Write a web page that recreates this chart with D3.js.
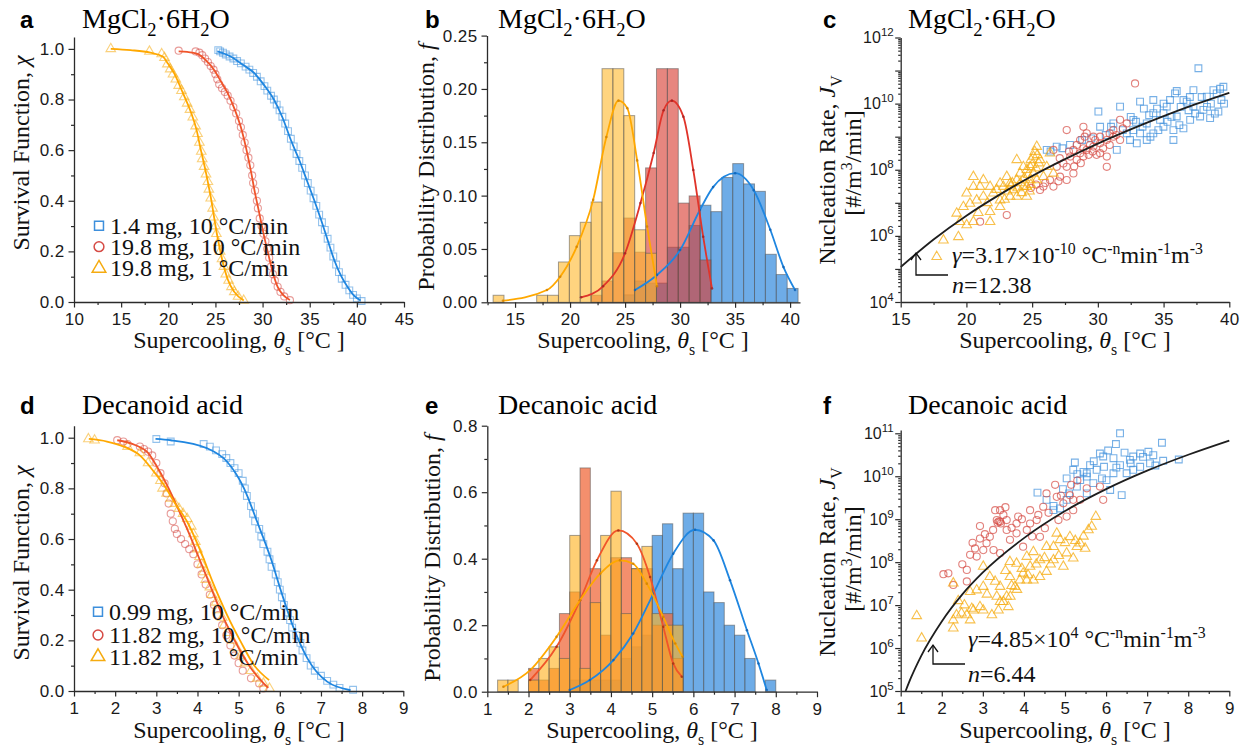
<!DOCTYPE html>
<html><head><meta charset="utf-8">
<script src="https://cdn.jsdelivr.net/npm/d3@7"></script>
<style>body{margin:0;background:#fff}svg{display:block}</style>
</head><body><svg id="chart" width="1247" height="753"></svg>
<script>
// ================= DATA =================
// Panel a: survival function, MgCl2·6H2O  [supercooling °C, chi]
const aBluePts = [[25.3,.995],[25.5,.99],[25.8,.985],[26.1,.978],[26.5,.97],[26.9,.962],[27.3,.952],[27.7,.943],[28.2,.93],[28.6,.918],[29.0,.905],[29.4,.89],[29.8,.872],[30.2,.853],[30.5,.835],[30.9,.815],[31.2,.8],[31.5,.78],[31.8,.757],[32.1,.732],[32.4,.705],[32.7,.675],[33.0,.645],[33.3,.615],[33.6,.585],[33.9,.557],[34.2,.53],[34.5,.5],[34.8,.47],[35.1,.44],[35.4,.41],[35.7,.38],[36.0,.345],[36.3,.315],[36.6,.285],[36.9,.25],[37.2,.215],[37.5,.18],[37.8,.148],[38.1,.118],[38.4,.092],[38.8,.068],[39.2,.046],[39.6,.028],[40.0,.014],[40.5,.004]];
const aBlueFit = [[25.2,.99],[26.6,.97],[28,.935],[29.1,.905],[30.2,.855],[31.2,.8],[32.1,.73],[33,.64],[33.9,.56],[34.7,.48],[35.5,.4],[36.2,.325],[36.9,.245],[37.6,.166],[38.3,.105],[39,.06],[39.7,.025],[40.4,.006]];
const aRedPts = [[21.1,.993],[22.9,.99],[23.3,.985],[23.6,.975],[23.9,.962],[24.2,.948],[24.5,.932],[24.8,.918],[25.0,.9],[25.2,.88],[25.4,.86],[25.7,.845],[26.0,.83],[26.3,.815],[26.6,.795],[26.9,.77],[27.2,.745],[27.5,.715],[27.7,.69],[27.9,.66],[28.1,.63],[28.3,.6],[28.5,.57],[28.7,.54],[28.9,.5],[29.0,.47],[29.2,.44],[29.4,.4],[29.5,.37],[29.7,.33],[29.9,.3],[30.1,.27],[30.3,.24],[30.5,.21],[30.7,.175],[30.9,.14],[31.1,.11],[31.3,.085],[31.6,.06],[31.9,.04],[32.3,.022],[32.9,.007]];
const aRedFit = [[21.1,.99],[22,.988],[23.1,.98],[24,.955],[24.9,.915],[25.6,.87],[26.3,.825],[27,.765],[27.7,.69],[28.3,.6],[28.8,.51],[29.2,.43],[29.6,.36],[30.1,.27],[30.6,.19],[31.1,.115],[31.6,.06],[32.2,.027],[32.9,.008]];
const aYelPts = [[13.9,1.0],[18.0,.99],[19.3,.98],[19.6,.965],[19.9,.94],[20.2,.92],[20.5,.9],[20.8,.88],[21.1,.855],[21.4,.835],[21.7,.81],[22.0,.785],[22.3,.76],[22.6,.73],[22.9,.695],[23.1,.665],[23.3,.63],[23.5,.595],[23.6,.565],[23.8,.535],[24.0,.505],[24.2,.475],[24.3,.445],[24.5,.41],[24.7,.37],[24.8,.335],[25.0,.3],[25.1,.27],[25.3,.235],[25.5,.2],[25.7,.17],[25.9,.14],[26.1,.11],[26.4,.085],[26.7,.06],[27.0,.04],[27.4,.022],[28.0,.006]];
const aYelFit = [[13.9,1.0],[16,.995],[18.1,.985],[19.4,.97],[20,.94],[20.6,.905],[21.5,.83],[22.4,.75],[23,.68],[23.4,.61],[24,.51],[24.5,.415],[25.2,.26],[25.7,.17],[26.3,.09],[27,.04],[28,.006]];
const aLegend = ["1.4 mg, 10 °C/min","19.8 mg, 10 °C/min","19.8 mg, 1 °C/min"];

// Panel b: histogram [bin centre °C, probability]
const bBinWidth = 0.99;
const bYelBars = [[13.5,.0066],[17.46,.0066],[18.45,.0066],[19.44,.0378],[20.43,.0625],[21.42,.075],[22.41,.094],[23.4,.219],[24.39,.219],[25.38,.175],[26.37,.068],[27.36,.046]];
const bRedBars = [[22.41,.0066],[23.4,.02],[24.39,.0465],[25.38,.079],[26.37,.047],[27.36,.126],[28.35,.219],[29.34,.219],[30.33,.093],[31.32,.0997],[32.31,.0397]];
const bBlueBars = [[25.38,.007],[26.37,.02],[27.36,.018],[28.35,.018],[29.34,.0516],[30.33,.0516],[31.32,.072],[32.31,.091],[33.3,.085],[34.29,.117],[35.28,.13],[36.27,.111],[37.26,.104],[38.25,.045],[39.24,.026],[40.23,.013]];
const bYelFit = [[13.9,.0015],[17.9,.0115],[19.1,.024],[20.6,.052],[22.1,.096],[23.3,.155],[24.4,.189],[25.2,.182],[26.1,.133],[27.0,.071],[27.9,.015]];
const bRedFit = [[21.0,.0047],[23.0,.015],[25.0,.046],[26.4,.093],[27.6,.14],[28.5,.18],[29.25,.189],[30.3,.174],[31.2,.124],[32.1,.0615],[32.9,.013]];
const bBlueFit = [[25.9,.0115],[27.9,.0256],[30.0,.049],[31.8,.0865],[33.0,.108],[35.0,.121],[36.7,.105],[38.2,.068],[39.4,.033],[40.45,.0115]];

// Panel c: nucleation rate [supercooling °C, log10 J]
const cBluePts = [[30.04,9.76],[31.69,9.91],[32.7,9.51],[33.21,10.06],[34.22,10.11],[34.22,9.71],[35.24,9.91],[35.87,10.31],[36.76,10.06],[37.27,10.41],[37.65,11.07],[38.29,10.21],[38.79,10.41],[39.55,10.51],[39.17,9.76],[38.54,9.56],[37.78,9.61],[37.02,9.51],[36.51,9.25],[35.75,9.2],[34.99,9.3],[34.22,9.1],[33.72,8.9],[32.96,8.8],[32.45,8.9],[31.44,8.6],[31.18,9.4],[32.7,9.2],[33.72,9.4],[34.99,9.71],[36.0,9.61],[37.27,9.91],[38.03,9.81],[36.51,10.11],[35.49,10.11],[34.73,9.51],[33.21,9.1],[32.2,9.1],[26.11,8.6],[26.87,8.7],[27.88,8.75],[30.17,9.3],[39.4,10.11],[35.75,8.9],[39.04,10.31],[36.9,9.8],[38.6,10.0],[33.9,9.65],[35.3,9.45],[37.9,10.2],[26.4,8.55],[27.3,8.65],[28.8,8.9],[29.5,8.95],[30.6,9.05],[31.0,9.3],[31.9,9.2],[32.5,9.6],[33.4,9.3],[33.5,9.85],[34.0,9.0],[34.6,9.2],[35.0,10.0],[35.6,9.6],[36.2,9.35],[36.3,9.9],[37.0,10.2],[37.4,9.7],[38.3,9.9],[38.9,9.7],[39.3,10.45],[39.6,10.0],[36.0,10.38],[34.5,9.85],[32.9,9.45]];
const cRedPts = [[21.04,6.43],[23.07,6.63],[25.86,7.49],[26.62,7.49],[27.12,7.79],[27.63,7.69],[27.63,8.09],[28.14,7.89],[27.38,8.19],[28.39,8.3],[28.9,8.4],[29.15,8.6],[28.65,8.9],[29.15,9.1],[29.66,8.7],[30.17,8.5],[30.68,8.4],[30.17,8.8],[30.68,8.9],[31.18,9.0],[31.69,8.9],[31.18,9.2],[31.69,9.51],[32.2,9.4],[30.68,8.09],[27.63,9.2],[28.14,8.6],[26.36,7.69],[25.6,7.39],[26.87,8.09],[28.9,9.3],[29.66,9.0],[32.83,10.61],[28.65,8.5],[26.62,8.6],[30.17,9.0],[29.4,8.75],[28.9,8.65],[30.9,9.1],[29.9,8.45],[27.1,8.35],[27.9,8.4],[28.4,8.75],[28.7,8.2],[29.0,9.0],[29.3,8.45],[29.6,8.55],[29.8,8.9],[30.4,8.65],[30.9,8.75],[31.4,9.05],[31.9,9.25],[28.2,8.1],[27.8,8.55],[26.0,7.6],[27.0,7.65],[24.9,7.45],[25.3,7.55]];
const cYelPts = [[17.74,5.37],[18.25,5.87],[19.39,5.97],[19.51,6.43],[20.02,6.33],[20.53,6.43],[21.8,6.43],[19.77,6.88],[20.27,6.98],[20.78,7.08],[21.29,7.19],[22.05,7.29],[22.56,7.08],[20.02,7.29],[20.53,7.49],[21.29,7.69],[21.8,7.49],[22.56,7.59],[23.32,7.19],[23.83,7.19],[22.81,7.49],[23.32,7.59],[23.83,7.69],[24.33,7.49],[24.59,7.19],[23.83,8.3],[24.33,8.09],[24.84,8.09],[25.35,8.7],[25.1,8.4],[25.6,8.3],[26.11,8.09],[25.86,7.79],[26.62,7.89],[26.36,8.5],[25.35,7.69],[24.84,7.69],[20.53,7.79],[21.04,7.49],[23.07,7.79],[24.08,7.89],[25.1,7.89],[23.57,7.39],[24.59,7.49],[22.56,6.88],[21.8,6.73],[19.26,6.68],[24.2,7.3],[24.8,7.35],[23.5,7.6],[25.0,8.15],[24.6,8.0],[25.2,8.55],[23.1,7.35],[23.4,7.5],[23.9,7.45],[24.1,7.6],[24.4,7.75],[24.7,7.85],[24.9,7.55],[25.3,8.05],[25.5,8.2],[25.4,8.45],[24.9,8.3],[22.3,7.4],[22.9,7.1],[21.6,7.0],[20.9,6.7]];
const cFit = [[15,5.06],[17.5,5.89],[20,6.61],[22.5,7.24],[25,7.81],[27.5,8.32],[30,8.79],[32.5,9.22],[35,9.62],[37.5,9.99],[40,10.33]];

// Panel d: survival function, decanoic acid
const dBluePts = [[3.0,.995],[3.35,.985],[4.15,.975],[4.3,.965],[4.45,.95],[4.6,.935],[4.7,.92],[4.8,.9],[4.9,.88],[5.0,.86],[5.1,.83],[5.15,.8],[5.2,.77],[5.3,.73],[5.35,.7],[5.4,.67],[5.5,.64],[5.55,.61],[5.6,.58],[5.7,.55],[5.75,.52],[5.8,.49],[5.9,.46],[5.95,.43],[6.0,.4],[6.05,.37],[6.1,.34],[6.2,.31],[6.25,.28],[6.3,.25],[6.4,.22],[6.5,.19],[6.55,.16],[6.65,.13],[6.75,.1],[6.85,.08],[7.0,.06],[7.15,.04],[7.3,.025],[7.45,.012],[7.78,.005]];
const dBlueFit = [[2.98,.995],[3.35,.99],[4.24,.958],[4.72,.905],[5.13,.8],[5.45,.668],[5.78,.524],[6.06,.379],[6.34,.247],[6.67,.129],[7.15,.037],[7.72,.003]];
const dRedPts = [[2.05,.99],[2.2,.985],[2.3,.975],[2.6,.965],[2.7,.955],[2.8,.945],[2.9,.93],[3.0,.9],[3.1,.86],[3.2,.82],[3.25,.78],[3.3,.74],[3.35,.7],[3.4,.67],[3.45,.64],[3.5,.62],[3.6,.6],[3.7,.58],[3.8,.56],[3.9,.54],[4.0,.5],[4.1,.46],[4.2,.42],[4.3,.38],[4.4,.34],[4.5,.3],[4.6,.26],[4.7,.22],[4.8,.18],[4.9,.14],[5.0,.11],[5.1,.08],[5.3,.05],[5.5,.03],[5.6,.01]];
const dRedFit = [[2.05,.99],[2.5,.97],[2.8,.94],[3.0,.89],[3.3,.8],[3.5,.73],[3.8,.62],[4.0,.54],[4.3,.42],[4.6,.3],[5.0,.17],[5.3,.09],[5.55,.04],[5.72,.012]];
const dYelPts = [[1.35,.995],[1.5,.99],[2.3,.965],[2.6,.94],[2.8,.9],[3.0,.86],[3.1,.83],[3.15,.8],[3.25,.78],[3.35,.76],[3.45,.74],[3.55,.72],[3.65,.7],[3.75,.68],[3.85,.65],[3.9,.62],[3.95,.59],[4.0,.56],[4.05,.53],[4.1,.5],[4.15,.47],[4.2,.44],[4.3,.41],[4.35,.38],[4.45,.35],[4.5,.32],[4.6,.29],[4.65,.26],[4.75,.23],[4.85,.2],[4.95,.17],[5.05,.14],[5.15,.11],[5.3,.08],[5.45,.05],[5.6,.03],[5.75,.01]];
const dYelFit = [[1.36,.995],[1.8,.985],[2.21,.965],[2.6,.93],[2.94,.866],[3.2,.81],[3.43,.747],[3.75,.668],[4.08,.55],[4.4,.418],[4.72,.3],[5.05,.195],[5.37,.103],[5.74,.043]];
const dLegend = ["0.99 mg, 10 °C/min","11.82 mg, 10 °C/min","11.82 mg, 1 °C/min"];

// Panel e: histogram, decanoic acid
const eBinWidth = 0.25;
const eYelBars = [[1.375,.035],[1.625,.035],[2.125,.035],[2.375,.1],[2.625,.135],[2.875,.1],[3.125,.47],[3.375,.07],[3.625,.268],[3.875,.47],[4.125,.603],[4.375,.235],[4.625,.37],[4.875,.437],[5.125,.235],[5.375,.2],[5.625,.2]];
const eRedBars = [[2.125,.07],[2.375,.035],[2.625,.07],[2.875,.235],[3.125,.3],[3.375,.673],[3.625,.37],[3.875,.17],[4.125,.403],[4.375,.403],[4.625,.37],[4.875,.37],[5.125,.2],[5.375,.235],[5.625,.1]];
const eBlueBars = [[3.125,.035],[3.375,.035],[3.625,.035],[3.875,.035],[4.125,.035],[4.375,.1],[4.625,.135],[4.875,.17],[5.125,.47],[5.375,.505],[5.625,.37],[5.875,.537],[6.125,.537],[6.375,.3],[6.625,.268],[6.875,.2],[7.125,.17],[7.375,.1],[7.875,.035]];
const eRedFit = [[2.04,.035],[2.68,.135],[3.25,.275],[3.66,.395],[4.18,.485],[4.63,.445],[4.95,.345],[5.27,.195],[5.51,.085],[5.72,.045]];
const eYelFit = [[1.39,.015],[2.04,.065],[2.68,.165],[3.25,.275],[3.74,.355],[4.22,.395],[4.54,.385],[4.87,.325],[5.27,.225],[5.56,.145],[5.74,.105]];
const eBlueFit = [[3.0,.005],[3.49,.035],[4.06,.095],[4.54,.175],[5.03,.295],[5.51,.415],[6.04,.487],[6.49,.455],[6.89,.335],[7.3,.185],[7.58,.085],[7.78,.005]];

// Panel f: nucleation rate, decanoic acid [°C, log10 J]
const fBluePts = [[4.33,9.62],[4.72,9.31],[5.04,9.95],[5.24,10.32],[5.37,9.91],[5.53,10.07],[5.61,10.26],[5.85,10.53],[5.95,10.22],[6.01,9.91],[6.18,10.42],[6.24,10.75],[6.34,11.0],[6.34,10.26],[6.5,10.07],[6.66,10.46],[6.83,10.22],[7.03,10.57],[7.15,10.49],[7.36,10.78],[7.39,10.36],[7.77,10.39],[5.53,9.6],[5.69,9.84],[5.29,9.76],[5.04,9.45],[5.2,10.15],[5.77,10.15],[6.1,9.68],[6.38,9.56],[6.66,10.15],[7.07,10.3],[6.58,10.38],[4.72,9.21],[4.55,9.45],[4.88,9.25],[5.53,9.99],[5.93,10.46],[6.18,10.07],[6.83,10.53],[5.1,9.6],[5.45,10.1],[5.7,10.35],[5.9,9.95],[6.05,10.6],[6.25,10.2],[6.45,10.55],[6.6,10.3],[6.9,10.45],[7.2,10.25],[5.3,10.05],[4.95,9.7]];
const fRedPts = [[2.04,7.72],[2.16,7.74],[2.28,7.47],[2.61,7.82],[2.69,8.17],[2.81,8.32],[2.93,8.55],[2.93,8.84],[3.09,8.44],[3.17,8.59],[3.34,8.98],[3.42,9.21],[3.3,9.21],[3.55,9.28],[3.42,8.94],[3.58,8.75],[3.66,8.52],[3.58,8.98],[3.82,8.67],[3.86,9.06],[3.98,8.36],[4.07,8.75],[4.15,9.21],[4.31,8.98],[4.39,8.59],[4.47,9.29],[4.55,9.6],[4.76,9.8],[4.8,9.52],[4.96,9.37],[5.04,9.06],[5.12,9.56],[5.2,9.21],[5.37,9.45],[5.53,9.72],[5.85,9.76],[3.01,8.28],[3.26,8.28],[3.42,8.21],[2.85,8.13],[3.82,8.9],[4.15,8.9],[4.51,8.79],[4.84,8.98],[5.2,9.45],[5.93,9.45],[3.36,8.92],[3.39,8.95],[3.44,8.9],[2.61,7.55],[2.5,7.95],[2.75,8.45],[3.05,8.65],[3.25,8.75],[3.5,9.1],[3.7,8.8],[3.95,9.0],[4.2,8.6],[4.35,9.1],[4.6,9.15],[4.9,9.55],[5.15,9.8],[5.3,9.9]];
const fYelPts = [[1.39,6.75],[1.51,6.23],[2.28,7.51],[3.01,7.9],[3.17,7.66],[3.66,8.01],[3.82,7.97],[3.98,7.74],[4.07,8.13],[4.23,8.24],[4.15,7.9],[4.39,8.05],[4.55,7.78],[4.72,8.05],[4.72,8.36],[4.88,8.52],[5.04,8.21],[5.12,8.59],[5.2,8.09],[5.37,8.44],[5.49,8.32],[5.57,8.75],[5.65,8.83],[5.75,9.06],[5.29,8.36],[4.8,8.67],[4.55,8.36],[4.96,7.9],[4.39,7.66],[4.23,7.58],[3.9,7.58],[3.66,7.66],[3.42,7.43],[3.34,7.2],[3.01,7.43],[2.85,7.35],[2.69,7.31],[2.93,6.96],[2.73,6.92],[2.48,6.81],[3.42,7.08],[3.62,6.96],[3.22,6.77],[4.07,7.58],[3.78,7.43],[2.28,6.46],[2.28,6.65],[2.36,6.77],[2.61,6.77],[2.77,6.88],[3.01,6.88],[3.38,6.88],[3.5,7.08],[3.67,7.2],[3.83,7.36],[3.58,7.2],[2.69,6.65],[3.1,7.25],[3.3,7.55],[3.55,7.8],[3.7,7.45],[3.95,7.85],[4.1,7.7],[4.3,7.95],[4.5,8.1],[4.65,7.95],[4.85,8.15],[5.0,8.45],[5.25,8.5],[5.45,8.6],[2.4,7.1],[2.55,7.0]];
const fFit = [[1.12,5.0],[1.25,5.31],[1.5,5.82],[2,6.62],[2.5,7.25],[3,7.76],[4,8.56],[5,9.19],[6,9.7],[7,10.13],[8,10.5],[9,10.83]];

// ================= STYLE =================
const SERIF = "'Liberation Serif','Times New Roman',serif";
const SANS = "'Liberation Sans',Arial,sans-serif";
const AX = "#2b2b2b";
const C = {
  blueM:"#3d8fdc", redM:"#d64b45", yelM:"#f5ab10",
  blueL:"#1f86e0", redL:"#e0342a", yelL:"#ffa800",
  redL2:"#f0542a"
};

const svg = d3.select("#chart");

// ================= HELPERS =================
function rich(sel, parts, size){
  let shift = 0;
  parts.forEach(p=>{
    const ts = sel.append("tspan").text(p.t);
    const target = p.sub ? size*0.28 : p.sup ? -size*0.38 : 0;
    ts.attr("dy", target - shift); shift = target;
    if(p.sub||p.sup) ts.attr("font-size", size*0.66);
    if(p.it) ts.attr("font-style","italic");
  });
}
function styleAxis(g){
  g.select(".domain").attr("stroke",AX).attr("stroke-width",1.3);
  g.selectAll(".tick line").attr("stroke",AX).attr("stroke-width",1.2);
  g.selectAll(".tick text").attr("font-family",SANS).attr("font-size",17).attr("letter-spacing",0.4).attr("fill","#1a1a1a");
}
function linX(g,x,y0,maj,minor,fmt){
  g.append("g").attr("transform",`translate(0,${y0})`)
    .call(d3.axisBottom(x).tickValues(minor).tickSize(3).tickSizeOuter(0).tickFormat(""))
    .call(s=>s.select(".domain").remove()).call(styleAxis);
  g.append("g").attr("transform",`translate(0,${y0})`)
    .call(d3.axisBottom(x).tickValues(maj).tickSize(5.5).tickSizeOuter(0).tickPadding(5.5).tickFormat(fmt))
    .call(styleAxis);
}
function linY(g,y,x0,maj,minor,fmt){
  g.append("g").attr("transform",`translate(${x0},0)`)
    .call(d3.axisLeft(y).tickValues(minor).tickSize(3).tickSizeOuter(0).tickFormat(""))
    .call(s=>s.select(".domain").remove()).call(styleAxis);
  g.append("g").attr("transform",`translate(${x0},0)`)
    .call(d3.axisLeft(y).tickValues(maj).tickSize(5.5).tickSizeOuter(0).tickPadding(4).tickFormat(fmt))
    .call(styleAxis);
}
function logY(g,y,x0,decades,labelDecades){
  const minor=[];
  decades.forEach(e=>{ for(let m=2;m<10;m++){ const v=m*Math.pow(10,e); if(v<=y.domain()[1]) minor.push(v);} });
  g.append("g").attr("transform",`translate(${x0},0)`)
    .call(d3.axisLeft(y).tickValues(minor).tickSize(2.5).tickSizeOuter(0).tickFormat(""))
    .call(s=>s.select(".domain").remove()).call(styleAxis);
  g.append("g").attr("transform",`translate(${x0},0)`)
    .call(d3.axisLeft(y).tickValues(decades.map(e=>Math.pow(10,e))).tickSize(5.5).tickSizeOuter(0).tickFormat(""))
    .call(styleAxis);
  labelDecades.forEach(e=>{
    const t=g.append("text").attr("x",x0-7).attr("y",y(Math.pow(10,e))+5.5)
      .attr("text-anchor","end").attr("font-family",SANS).attr("font-size",16).attr("fill","#1a1a1a");
    t.append("tspan").text("10");
    t.append("tspan").text(String(e)).attr("font-size",11.5).attr("dy",-7);
  });
}
function xTitle(g,cx,yb){
  const t=g.append("text").attr("x",cx).attr("y",yb).attr("text-anchor","middle")
    .attr("font-family",SERIF).attr("font-size",24).attr("fill","#111");
  rich(t,[{t:"Supercooling, "},{t:"θ",it:true},{t:"s",sub:true},{t:" [°C ]"}],24);
}
function yTitle(g,xb,cy,parts,size){
  const t=g.append("text").attr("transform",`translate(${xb},${cy}) rotate(-90)`)
    .attr("text-anchor","middle").attr("font-family",SERIF).attr("font-size",size).attr("fill","#111");
  rich(t,parts,size);
}
function panelHead(g,letter,lx,tx,yb,titleParts){
  g.append("text").attr("x",lx).attr("y",yb).attr("font-family",SANS).attr("font-weight","bold")
    .attr("font-size",24).attr("fill","#000").text(letter);
  const t=g.append("text").attr("x",tx).attr("y",yb).attr("font-family",SERIF).attr("font-size",28).attr("fill","#000");
  rich(t,titleParts,28);
}
const mgTitle=[{t:"MgCl"},{t:"2",sub:true},{t:"·6H"},{t:"2",sub:true},{t:"O"}];
const decTitle=(w)=>[{t:w}];

const symSq = d3.symbol().type(d3.symbolSquare).size(46);
const symCi = d3.symbol().type(d3.symbolCircle).size(40);
const symTr = d3.symbol().type(d3.symbolTriangle).size(40);

function scatter(g,x,y,pts,sym,color,op,logy){
  g.append("g").selectAll("path").data(pts).join("path")
    .attr("d",sym).attr("transform",d=>`translate(${x(d[0])},${logy?y(Math.pow(10,d[1])):y(d[1])})`)
    .attr("fill","none").attr("stroke",color).attr("stroke-width",1.1).attr("stroke-opacity",op);
}
function fitLine(g,x,y,pts,color,w,logy){
  const line=d3.line().x(d=>x(d[0])).y(d=>logy?y(Math.pow(10,d[1])):y(d[1])).curve(d3.curveMonotoneX);
  g.append("path").datum(pts).attr("d",line).attr("fill","none").attr("stroke",color).attr("stroke-width",w);
}
function bars(g,x,y,data,bw,fill,op){
  g.append("g").selectAll("rect").data(data).join("rect")
    .attr("x",d=>x(d[0]-bw/2)).attr("width",d=>x(d[0]+bw/2)-x(d[0]-bw/2))
    .attr("y",d=>y(d[1])).attr("height",d=>y(0)-y(d[1]))
    .attr("fill",fill).attr("fill-opacity",op).attr("stroke","#555").attr("stroke-opacity",0.55).attr("stroke-width",1);
}
function dots(g,x,y,pts,color){
  g.append("g").selectAll("circle").data(pts).join("circle")
    .attr("cx",d=>x(d[0])).attr("cy",d=>y(d[1])).attr("r",1.3).attr("fill",color).attr("opacity",0.8);
}
function legend(g,x0,rows,labels){
  const syms=[[d3.symbol().type(d3.symbolSquare).size(80),C.blueM],[d3.symbol().type(d3.symbolCircle).size(75),C.redM],[d3.symbol().type(d3.symbolTriangle).size(80),C.yelM]];
  labels.forEach((lab,i)=>{
    g.append("path").attr("d",syms[i][0]).attr("transform",`translate(${x0},${rows[i]})`)
      .attr("fill","none").attr("stroke",syms[i][1]).attr("stroke-width",1.5);
    g.append("text").attr("x",x0+11).attr("y",rows[i]+8).attr("font-family",SERIF).attr("font-size",24).attr("fill","#111").text(lab);
  });
}
function arrowNote(g,xv,yTop,yH,xH){
  g.append("path").attr("d",`M${xH},${yH}H${xv}V${yTop}`).attr("fill","none").attr("stroke","#111").attr("stroke-width",1.3);
  g.append("path").attr("d",`M${xv-5},${yTop+7}L${xv},${yTop}L${xv+5},${yTop+7}`).attr("fill","none").attr("stroke","#111").attr("stroke-width",1.3);
}
function gammaText(g,x,yb,mant,exp){
  const t=g.append("text").attr("x",x).attr("y",yb).attr("font-family",SERIF).attr("font-size",24).attr("fill","#111");
  rich(t,[{t:"γ",it:true},{t:"="+mant+"×10"},{t:exp,sup:true},{t:" °C"},{t:"-n",sup:true},{t:"min"},{t:"-1",sup:true},{t:"m"},{t:"-3",sup:true}],24);
}
function nText(g,x,yb,val){
  const t=g.append("text").attr("x",x).attr("y",yb).attr("font-family",SERIF).attr("font-size",24).attr("fill","#111");
  rich(t,[{t:"n",it:true},{t:"="+val}],24);
}
const f1=d3.format(".1f"), f2=d3.format(".2f"), f0=d3.format("d");
const rng=(a,b,s)=>d3.range(a,b+s/2,s);

// ================= PANEL A =================
{
  const g=svg.append("g");
  const x=d3.scaleLinear().domain([10,45]).range([74,404]);
  const y=d3.scaleLinear().domain([0,1.047]).range([302,37]);
  panelHead(g,"a",20,82,28,mgTitle);
  scatter(g,x,y,aBluePts,symSq,C.blueM,0.55);
  scatter(g,x,y,aRedPts,symCi,C.redM,0.55);
  scatter(g,x,y,aYelPts,symTr,C.yelM,0.55);
  fitLine(g,x,y,aBlueFit,C.blueL,1.8);
  fitLine(g,x,y,aRedFit,C.redL2,1.8);
  fitLine(g,x,y,aYelFit,C.yelL,1.8);
  linX(g,x,302,rng(10,45,5),rng(12.5,42.5,5),f0);
  linY(g,y,74,rng(0,1,0.2),rng(0.1,0.9,0.2),f1);
  legend(g,99,[225.7,246.7,268.3],aLegend);
  xTitle(g,239,348);
  yTitle(g,29,153,[{t:"Survival Function, "},{t:"χ",it:true}],24);
}
// ================= PANEL B =================
{
  const g=svg.append("g");
  const x=d3.scaleLinear().domain([12.45,40.9]).range([487,800]);
  const y=d3.scaleLinear().domain([0,0.25]).range([302.3,35.6]);
  panelHead(g,"b",425,498,28,mgTitle);
  bars(g,x,y,bBlueBars,bBinWidth,"#2a85dc",0.68);
  bars(g,x,y,bRedBars,bBinWidth,"#d83c30",0.62);
  bars(g,x,y,bYelBars,bBinWidth,"#ffb930",0.62);
  fitLine(g,x,y,bBlueFit,C.blueL,1.8); dots(g,x,y,bBlueFit,"#1060b0");
  fitLine(g,x,y,bRedFit,C.redL,1.8); dots(g,x,y,bRedFit,"#a02020");
  fitLine(g,x,y,bYelFit,C.yelL,1.8); dots(g,x,y,bYelFit,"#d08000");
  linX(g,x,302.3,rng(15,40,5),rng(12.5,37.5,5),f0);
  linY(g,y,487,rng(0,0.25,0.05),rng(0.025,0.225,0.05),f2);
  xTitle(g,643,348);
  yTitle(g,434,167,[{t:"Probability Distribution, "},{t:"f",it:true}],24);
}
// ================= PANEL C =================
{
  const g=svg.append("g");
  const x=d3.scaleLinear().domain([15,40]).range([900.7,1229.3]);
  const y=d3.scaleLog().domain([1e4,1e12]).range([302,37.5]);
  panelHead(g,"c",823,908,28,mgTitle);
  scatter(g,x,y,cBluePts,symSq,C.blueM,0.7,true);
  scatter(g,x,y,cRedPts,symCi,C.redM,0.7,true);
  scatter(g,x,y,cYelPts,symTr,C.yelM,0.75,true);
  fitLine(g,x,y,cFit,"#1e1e1e",1.8,true);
  linX(g,x,302,rng(15,40,5),rng(17.5,37.5,5),f0);
  logY(g,y,900.7,d3.range(4,13),[4,6,8,10,12]);
  arrowNote(g,916,253,275,948);
  gammaText(g,952,263,"3.17","-10");
  nText(g,952,293,"12.38");
  xTitle(g,1065,348);
  yTitle(g,835,170,[{t:"Nucleation Rate, "},{t:"J",it:true},{t:"V",sub:true}],24);
  yTitle(g,861,163,[{t:"[#/m"},{t:"3",sup:true},{t:"/min]"}],24);
}
// ================= PANEL D =================
{
  const g=svg.append("g");
  const x=d3.scaleLinear().domain([1,9]).range([74,403.3]);
  const y=d3.scaleLinear().domain([0,1.047]).range([691,425.8]);
  panelHead(g,"d",20,82,414,decTitle("Decanoid acid"));
  scatter(g,x,y,dBluePts,symSq,C.blueM,0.55);
  scatter(g,x,y,dRedPts,symCi,C.redM,0.55);
  scatter(g,x,y,dYelPts,symTr,C.yelM,0.55);
  fitLine(g,x,y,dBlueFit,C.blueL,1.8);
  fitLine(g,x,y,dRedFit,C.redL2,1.8);
  fitLine(g,x,y,dYelFit,C.yelL,1.8);
  linX(g,x,691,rng(1,9,1),rng(1.5,8.5,1),f0);
  linY(g,y,74,rng(0,1,0.2),rng(0.1,0.9,0.2),f1);
  legend(g,98,[611.7,635,656.7],dLegend);
  xTitle(g,239,738);
  yTitle(g,29,563,[{t:"Survival Function, "},{t:"χ",it:true}],24);
}
// ================= PANEL E =================
{
  const g=svg.append("g");
  const x=d3.scaleLinear().domain([1,9]).range([487.3,817]);
  const y=d3.scaleLinear().domain([0,0.8]).range([691.7,425.7]);
  panelHead(g,"e",425,498,414,decTitle("Decanoic acid"));
  bars(g,x,y,eBlueBars,eBinWidth,"#2a85dc",0.68);
  bars(g,x,y,eRedBars,eBinWidth,"#f06a3c",0.75);
  bars(g,x,y,eYelBars,eBinWidth,"#ffb21e",0.62);
  fitLine(g,x,y,eBlueFit,C.blueL,1.8); dots(g,x,y,eBlueFit,"#1060b0");
  fitLine(g,x,y,eRedFit,C.redL2,1.8); dots(g,x,y,eRedFit,"#a03010");
  fitLine(g,x,y,eYelFit,C.yelL,1.8); dots(g,x,y,eYelFit,"#d08000");
  linX(g,x,691.7,rng(1,9,1),rng(1.5,8.5,1),f0);
  linY(g,y,487.3,rng(0,0.8,0.2),rng(0.1,0.7,0.2),f1);
  xTitle(g,652,738);
  yTitle(g,440,558,[{t:"Probability Distribution, "},{t:"f",it:true}],24);
}
// ================= PANEL F =================
{
  const g=svg.append("g");
  const x=d3.scaleLinear().domain([1,9]).range([900.7,1229.3]);
  const y=d3.scaleLog().domain([1e5,1.2e11]).range([691,429.9]);
  panelHead(g,"f",823,908,414,decTitle("Decanoic acid"));
  scatter(g,x,y,fBluePts,symSq,C.blueM,0.7,true);
  scatter(g,x,y,fRedPts,symCi,C.redM,0.7,true);
  scatter(g,x,y,fYelPts,symTr,C.yelM,0.75,true);
  fitLine(g,x,y,fFit,"#1e1e1e",1.8,true);
  linX(g,x,691,rng(1,9,1),rng(1.5,8.5,1),f0);
  logY(g,y,900.7,d3.range(5,12),d3.range(5,12));
  arrowNote(g,933,645,664,965);
  gammaText(g,968,647,"4.85","4");
  nText(g,968,682,"6.44");
  xTitle(g,1065,738);
  yTitle(g,835,562,[{t:"Nucleation Rate, "},{t:"J",it:true},{t:"V",sub:true}],24);
  yTitle(g,861,559,[{t:"[#/m"},{t:"3",sup:true},{t:"/min]"}],24);
}
</script></body></html>
